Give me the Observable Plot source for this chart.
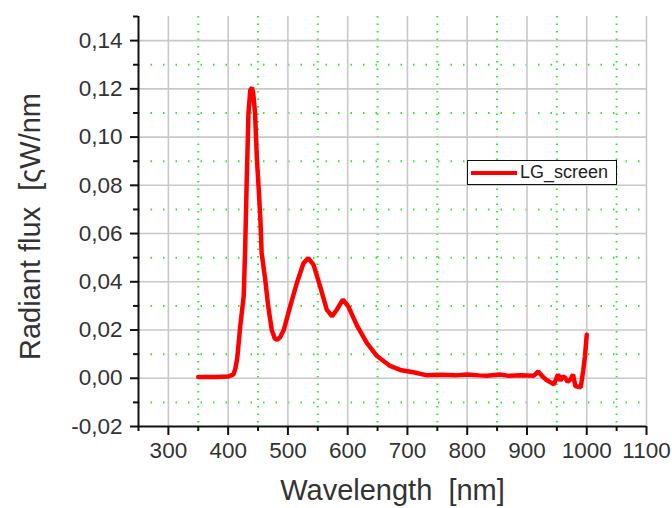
<!DOCTYPE html>
<html>
<head>
<meta charset="utf-8">
<script src="https://cdn.jsdelivr.net/npm/d3@7"></script>
<script src="https://cdn.jsdelivr.net/npm/@observablehq/plot@0.6"></script>
<style>
  html, body { margin: 0; padding: 0; background: #fff; }
  #wrap { position: relative; width: 672px; height: 508px; overflow: hidden; font-family: "Liberation Sans", Arial, sans-serif; }
  #legend { position: absolute; left: 467px; top: 160px; width: 148px; height: 23px; border: 1.5px solid #111; background: #fff; display: flex; align-items: center; }
  #legend .sw { width: 46px; height: 4px; background: #ff0000; margin-left: 3px; margin-right: 3px; }
  #legend .lb { font-size: 18px; color: #222; }
</style>
</head>
<body>
<div id="wrap"><div id="legend"><div class="sw"></div><div class="lb"></div></div></div>
<script>
const seriesName = "LG_screen";
const xTitle = "Wavelength  [nm]";
const yTitle = "Radiant flux  [ςW/nm";

const wavelength = [350, 380, 400, 409, 412, 415, 417, 420, 426, 428.5, 431, 434, 437, 440, 442, 445, 448, 451, 454, 456, 462, 467, 470, 473, 478, 482, 487, 493, 504, 515, 526, 534, 543, 554, 565, 574, 582, 592, 601, 616, 632, 649, 671, 690, 710, 733, 755, 780, 800, 820, 833, 855, 870, 889, 911, 919, 925, 931, 938, 945, 952, 956, 960, 964, 968, 973, 977, 981, 986, 990, 994, 997, 999, 1000];
const flux = [0.0005, 0.0005, 0.0007, 0.0016, 0.004, 0.008, 0.013, 0.021, 0.034, 0.054, 0.081, 0.110, 0.1195, 0.1205, 0.118, 0.110, 0.0915, 0.079, 0.0656, 0.052, 0.041, 0.030, 0.025, 0.020, 0.0165, 0.016, 0.017, 0.020, 0.030, 0.0395, 0.0477, 0.0498, 0.047, 0.038, 0.0285, 0.0257, 0.0285, 0.0326, 0.0298, 0.0216, 0.0147, 0.0092, 0.0051, 0.0033, 0.0025, 0.0012, 0.0015, 0.0012, 0.0016, 0.0012, 0.001, 0.0016, 0.0010, 0.0012, 0.001, 0.0028, 0.001, -0.0004, -0.0015, -0.0025, 0.0016, -0.001, 0.0008, 0.0002, -0.0015, -0.0004, 0.0016, -0.0032, -0.0035, -0.0037, 0.003, 0.009, 0.015, 0.018];

const xMajor = [300, 400, 500, 600, 700, 800, 900, 1000, 1100];
const xMinor = [250, 350, 450, 550, 650, 750, 850, 950, 1050];
const yMajor = [-0.02, 0, 0.02, 0.04, 0.06, 0.08, 0.10, 0.12, 0.14];
const yMinor = [-0.01, 0.01, 0.03, 0.05, 0.07, 0.09, 0.11, 0.13, 0.15];
const xDomain = [250, 1100];
const yDomain = [-0.02, 0.15];

const data = wavelength.map((w, i) => ({w, f: flux[i]}));
const fmtY = d => (d < 0 ? "-" : "") + Math.abs(d).toFixed(2).replace(".", ",");

const chart = Plot.plot({
  width: 672,
  height: 508,
  marginLeft: 138,
  marginRight: 26,
  marginTop: 16,
  marginBottom: 82,
  style: {fontFamily: "'Liberation Sans', Arial, sans-serif", background: "white"},
  x: {domain: xDomain},
  y: {domain: yDomain},
  marks: [
    Plot.gridX(xMinor.slice(1), {stroke: "#22ee22", strokeOpacity: 1, strokeWidth: 2, strokeDasharray: "1.5,6"}),
    Plot.gridY(yMinor.slice(0, -1), {stroke: "#22ee22", strokeOpacity: 1, strokeWidth: 2, strokeDasharray: "1.5,11"}),
    Plot.gridX(xMajor, {stroke: "#c8c8c8", strokeOpacity: 1, strokeWidth: 1.6}),
    Plot.gridY(yMajor.slice(1), {stroke: "#c8c8c8", strokeOpacity: 1, strokeWidth: 1.6}),
    Plot.line(data, {x: "w", y: "f", stroke: "#ff0000", strokeWidth: 4.5, strokeLinejoin: "miter"}),
    Plot.ruleX([xDomain[0]], {stroke: "#111", strokeWidth: 2}),
    Plot.ruleY([yDomain[0]], {stroke: "#111", strokeWidth: 2}),
    Plot.axisX(xMajor, {tickSize: 9, tickPadding: 7, stroke: "#111", strokeWidth: 2, fontSize: 22.5, fill: "#333", tickFormat: d => String(d), label: null}),
    Plot.axisX(xMinor, {tickSize: 5, stroke: "#111", strokeWidth: 2, tickFormat: () => "", label: null}),
    Plot.axisY(yMajor, {tickSize: 8, tickPadding: 8, stroke: "#111", strokeWidth: 2, fontSize: 22.5, fill: "#333", tickFormat: fmtY, label: null}),
    Plot.axisY(yMinor, {tickSize: 5, stroke: "#111", strokeWidth: 2, tickFormat: () => "", label: null}),
    Plot.text([yTitle], {frameAnchor: "left", rotate: -90, dx: -108, dy: 5, fontSize: 29, fill: "#333", textAnchor: "middle", lineAnchor: "middle"}),
    Plot.text([xTitle], {frameAnchor: "bottom", dy: 64, fontSize: 29, fill: "#333", textAnchor: "middle", lineAnchor: "middle"})
  ]
});
const wrap = document.getElementById("wrap");
wrap.insertBefore(chart, wrap.firstChild);
document.querySelector("#legend .lb").textContent = seriesName;
</script>
</body>
</html>
